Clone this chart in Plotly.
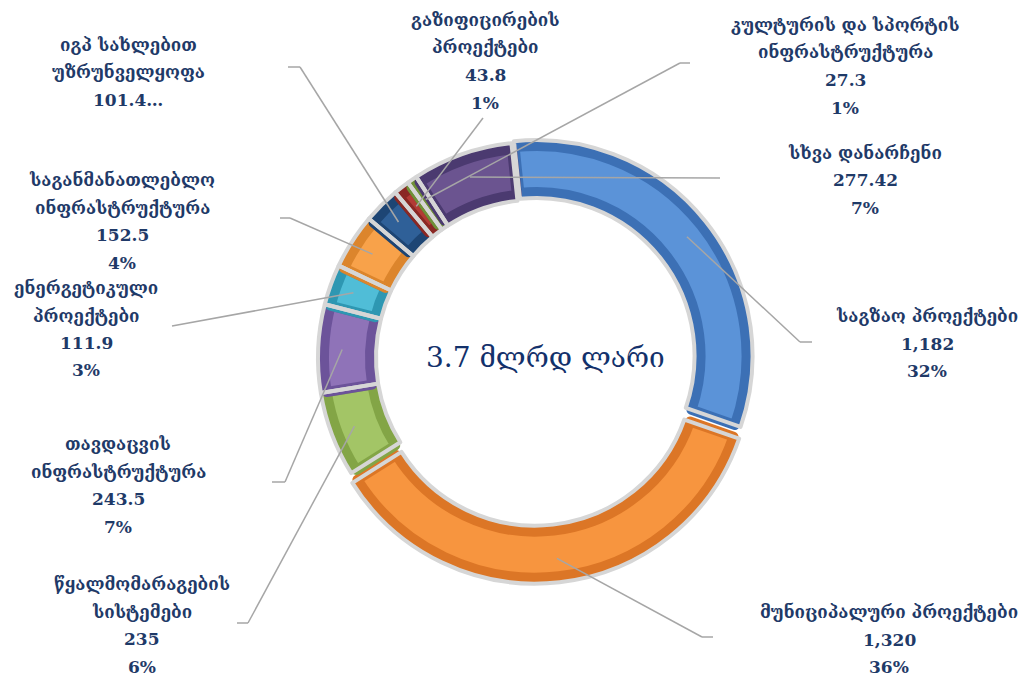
import math
import plotly.graph_objects as go

# ---- data ----
categories = [
    "საგზაო პროექტები",
    "მუნიციპალური პროექტები",
    "წყალმომარაგების<br>სისტემები",
    "თავდაცვის<br>ინფრასტრუქტურა",
    "ენერგეტიკული<br>პროექტები",
    "საგანმანათლებლო<br>ინფრასტრუქტურა",
    "იგპ სახლებით<br>უზრუნველყოფა",
    "გაზიფიცირების<br>პროექტები",
    "კულტურის და სპორტის<br>ინფრასტრუქტურა",
    "სხვა დანარჩენი",
]
values = [1182, 1320, 235, 243.5, 111.9, 152.5, 101.4, 43.8, 27.3, 277.42]
value_labels = ["1,182", "1,320", "235", "243.5", "111.9", "152.5", "101.4…", "43.8", "27.3", "277.42"]
pct_labels = ["32%", "36%", "6%", "7%", "3%", "4%", "", "1%", "1%", "7%"]
center_label = "3.7 მლრდ ლარი"

# ---- styling ----
face_colors = ["#5b93d8", "#f7953f", "#a3c566", "#8f73b8", "#50bdd7",
               "#f8a24a", "#2f6098", "#b23b35", "#8fb04e", "#6b5490"]
edge_colors = ["#3c70b5", "#dc7626", "#83a546", "#6c539a", "#2e97b2",
               "#dc852c", "#1d4574", "#8a2824", "#6f9038", "#4b3a70"]
pulls = [0.015, 0.045, 0, 0, 0, 0, 0, 0, 0, 0]

W, H = 1029, 680
CX, CY = 534, 358          # ring centre in pixels
R_OUT, R_IN = 216, 158      # ring radii in pixels
ROT = -6
TEXT_COLOR = "#1f3a68"
FONT = "DejaVu Serif"

# label anchor (centre x, first-line y) and leader-line elbow points, in pixels
label_pos = [(927, 316), (889, 612), (142, 584), (118, 444), (86, 288),
             (122, 180), (128, 45), (485, 20), (845, 25), (865, 153)]
leader_elbows = [
    [(812, 342), (800, 342)],
    [(713, 637), (702, 637)],
    [(237, 623), (248, 623)],
    [(272, 482), (285, 482)],
    [(172, 326)],
    [(280, 218), (290, 218)],
    [(288, 67), (300, 67)],
    [(483, 118)],
    [(690, 63), (680, 63)],
    [(720, 178)],
]
LINE_STEP = 27.5


def px(x):
    return x / W


def py(y):
    return 1 - y / H


def domain_for(radius, maxpull):
    half = radius * (1 + maxpull)
    return dict(x=[px(CX - half), px(CX + half)], y=[py(CY + half), py(CY - half)])


fig = go.Figure()

# base ring in the darker bevel-edge colours
fig.add_trace(go.Pie(
    values=values, labels=categories, sort=False, direction="clockwise",
    rotation=ROT, hole=R_IN / R_OUT, pull=pulls,
    marker=dict(colors=edge_colors, line=dict(width=0)),
    textinfo="none", hoverinfo="skip", showlegend=False,
    domain=domain_for(R_OUT, max(pulls)),
))

# raised inner faces
R2_OUT, R2_IN = 210, 164
offsets = [p * R_OUT for p in pulls]
pulls2 = [o / R2_OUT for o in offsets]
fig.add_trace(go.Pie(
    values=values, labels=categories, sort=False, direction="clockwise",
    rotation=ROT, hole=R2_IN / R2_OUT, pull=pulls2,
    marker=dict(colors=face_colors, line=dict(color=edge_colors, width=10)),
    textinfo="none", hoverinfo="skip", showlegend=False,
    domain=domain_for(R2_OUT, max(pulls2)),
))

# light separators and rims
fig.add_trace(go.Pie(
    values=values, labels=categories, sort=False, direction="clockwise",
    rotation=ROT, hole=R_IN / R_OUT, pull=pulls,
    marker=dict(colors=["rgba(0,0,0,0)"] * len(values), line=dict(color="#d6d6d6", width=4)),
    textinfo="none", hoverinfo="skip", showlegend=False,
    domain=domain_for(R_OUT, max(pulls)),
))

total = sum(values)
annotations = []
shapes = []
cum = 0.0
for i, v in enumerate(values):
    mid = math.radians(ROT + (cum + v / 2) / total * 360)
    cum += v
    rr = 192 + pulls[i] * R_OUT
    ex, ey = CX + rr * math.sin(mid), CY - rr * math.cos(mid)

    pts = leader_elbows[i] + [(ex, ey)]
    for (x0, y0), (x1, y1) in zip(pts[:-1], pts[1:]):
        shapes.append(dict(type="line", xref="paper", yref="paper",
                           x0=px(x0), y0=py(y0), x1=px(x1), y1=py(y1),
                           line=dict(color="#a6a6a6", width=1.5)))

    lines = categories[i].split("<br>") + [value_labels[i]]
    if pct_labels[i]:
        lines.append(pct_labels[i])
    lx, ly = label_pos[i]
    for k, t in enumerate(lines):
        annotations.append(dict(
            x=px(lx), y=py(ly + k * LINE_STEP), xref="paper", yref="paper",
            text=f"<b>{t}</b>", showarrow=False, xanchor="center", yanchor="middle",
            font=dict(family=FONT, size=17, color=TEXT_COLOR),
        ))

annotations.append(dict(
    x=px(545), y=py(357), xref="paper", yref="paper", text=center_label,
    showarrow=False, xanchor="center", yanchor="middle",
    font=dict(family=FONT, size=28, color="#13316b"),
))

fig.update_layout(
    width=W, height=H,
    margin=dict(l=0, r=0, t=0, b=0),
    paper_bgcolor="white", plot_bgcolor="white",
    annotations=annotations, shapes=shapes,
)

fig.write_html("out.html")
